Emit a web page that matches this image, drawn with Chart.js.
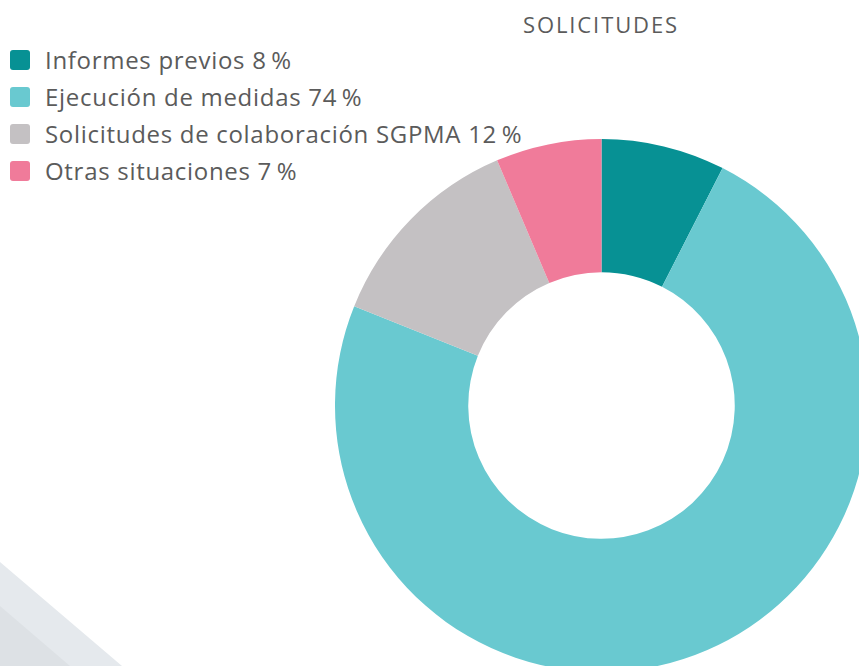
<!DOCTYPE html>
<html>
<head>
<meta charset="utf-8">
<script src="https://cdn.jsdelivr.net/npm/chart.js@4.4.0/dist/chart.umd.min.js"></script>
<style>
  html, body { margin: 0; padding: 0; width: 859px; height: 666px; overflow: hidden; background: #fff; }
  body { position: relative; font-family: "Open Sans", sans-serif; color: #5b5b5b; }
  .deco1 { position: absolute; left: 0; top: 0; width: 859px; height: 666px; background: #e5e9ed;
    clip-path: polygon(0 562px, 122px 666px, 0 666px); }
  .deco2 { position: absolute; left: 0; top: 0; width: 859px; height: 666px; background: #dde1e5;
    clip-path: polygon(0 606px, 70px 666px, 0 666px); }
  #title { position: absolute; left: 451px; width: 300px; top: 9px; text-align: center; font-size: 22px; letter-spacing: 1.9px; }
  #legend { position: absolute; left: 10px; top: 41px; }
  .item { display: flex; align-items: center; height: 37px; font-size: 24px; letter-spacing: 0.7px; white-space: nowrap; }
  .box { width: 20px; height: 20px; border-radius: 3px; margin-right: 15px; }
  #wrap { position: absolute; left: 335px; top: 139px; width: 533px; height: 533px; }
</style>
</head>
<body>
<div class="deco1"></div>
<div class="deco2"></div>
<div id="title">SOLICITUDES</div>
<div id="legend"></div>
<div id="wrap"><canvas id="chart"></canvas></div>
<script>
const categorias = [
  "Informes previos",
  "Ejecución de medidas",
  "Solicitudes de colaboración SGPMA",
  "Otras situaciones",
];
const porcentajes = [8, 74, 12, 7];
const valores = [7.5, 73.5, 12.5, 6.4];
const colores = ["#079194", "#69c9d0", "#c4c1c3", "#f07b9a"];

const legendEl = document.getElementById("legend");
categorias.forEach((cat, i) => {
  const row = document.createElement("div");
  row.className = "item";
  row.innerHTML =
    '<span class="box" style="background:' + colores[i] + '"></span>' +
    cat + " " + porcentajes[i] + "\u2009%";
  legendEl.appendChild(row);
});

const ctx = document.getElementById("chart").getContext("2d");
new Chart(ctx, {
  type: "doughnut",
  data: {
    labels: categorias,
    datasets: [
      {
        data: valores,
        backgroundColor: colores,
        borderWidth: 0,
      },
    ],
  },
  options: {
    responsive: true,
    maintainAspectRatio: false,
    animation: false,
    cutout: "50%",
    layout: { padding: 0 },
    plugins: { legend: { display: false }, tooltip: { enabled: false } },
  },
});
</script>
</body>
</html>
